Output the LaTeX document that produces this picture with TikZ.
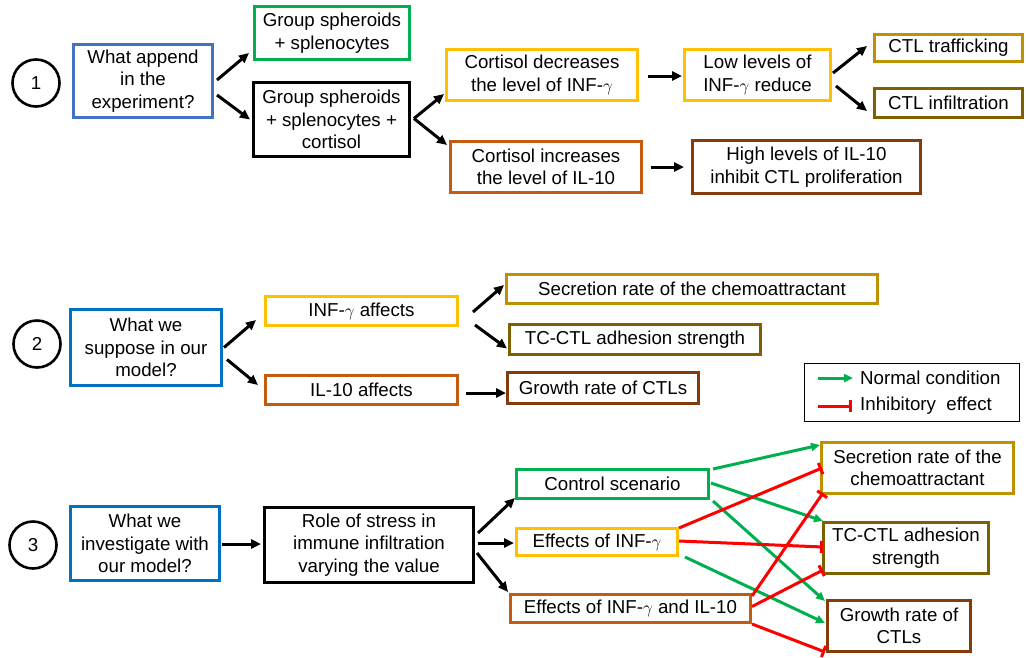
\documentclass[tikz,border=0pt]{standalone}
\usepackage{fontspec}
\setmainfont{Liberation Sans}
\usetikzlibrary{arrows.meta,calc}
\definecolor{cblueA}{HTML}{4472C4}
\definecolor{cblueB}{HTML}{0070C0}
\definecolor{cgreen}{HTML}{00B050}
\definecolor{cyellow}{HTML}{FFC000}
\definecolor{corange}{HTML}{C55A11}
\definecolor{cgold}{HTML}{BF9000}
\definecolor{cdgold}{HTML}{7F6000}
\definecolor{cbrown}{HTML}{843C0C}
\definecolor{cred}{HTML}{FF0000}
\tikzset{
  txt/.style={font=\fontsize{18.7}{22.5}\selectfont},
  bx/.style={txt, draw, line width=3.2pt, inner sep=0pt, align=center, fill=white},
  numc/.style={txt, draw, circle, line width=2.6pt, minimum size=47pt, inner sep=0pt},
  ar/.style={-{Triangle[length=10pt,width=9pt]}, line width=3pt, black},
  gar/.style={-{Triangle[length=9pt,width=8pt]}, line width=3pt, cgreen},
  rbar/.style={-{Bar[width=12pt]}, line width=3pt, cred},
}
\newcommand{\Bx}[7]{\node[bx, draw=#6, minimum width={(#4-#2-3.2)*1pt}, minimum height={(#5-#3-3.2)*1pt}] (#1) at ({(#2+#4)/2},{(#3+#5)/2}) {#7};}
\begin{document}
\begin{tikzpicture}[x=1pt,y=-1pt]
\useasboundingbox (0,0) rectangle (1026,657);

% ---------- Section 1 ----------
\node[numc] (c1) at (36,83) {1};
\Bx{q1}{72}{43}{214}{119}{cblueA}{What append\\in the\\experiment?}
\Bx{g1}{253}{5}{411}{61}{cgreen}{Group spheroids\\+ splenocytes}
\Bx{k1}{252}{81}{411}{158}{black}{Group spheroids\\+ splenocytes +\\cortisol}
\Bx{y1}{445}{48}{639}{102}{cyellow}{Cortisol decreases\\the level of INF-$\gamma$}
\Bx{o1}{449}{140}{643}{194}{corange}{Cortisol increases\\the level of IL-10}
\Bx{l1}{683}{48}{832}{102}{cyellow}{Low levels of\\INF-$\gamma$ reduce}
\Bx{h1}{691}{139}{922}{195}{cbrown}{High levels of IL-10\\inhibit CTL proliferation}
\Bx{t1}{873}{33}{1024}{63}{cgold}{CTL trafficking}
\Bx{i1}{873}{87}{1024}{119}{cdgold}{CTL infiltration}

\draw[ar] ($(q1.east)+(3,-1)$) -- ($(g1.south west)+(-4,-8)$);
\draw[ar] ($(q1.east)+(3,14)$) -- ($(k1.west)+(-2,0)$);
\draw[ar] ($(k1.east)+(3,-1)$) -- ($(y1.south west)+(-1,-8)$);
\draw[ar] ($(k1.east)+(3,-1)$) -- ($(o1.north west)+(-2,5)$);
\draw[ar] ($(y1.east)+(9,1)$) -- ($(l1.west)+(-1,1)$);
\draw[ar] ($(l1.east)+(1,-2)$) -- ($(t1.west)+(-6,-2)$);
\draw[ar] ($(l1.east)+(4,11)$) -- ($(i1.west)+(-6,8)$);
\draw[ar] ($(o1.east)+(8,0)$) -- ($(h1.west)+(-7,0)$);

% ---------- Section 2 ----------
\node[numc] (c2) at (37,344) {2};
\Bx{q2}{69}{308}{223}{387}{cblueB}{What we\\suppose in our\\model?}
\Bx{y2}{264}{295}{459}{327}{cyellow}{INF-$\gamma$ affects}
\Bx{o2}{264}{374}{459}{406}{corange}{IL-10 affects}
\Bx{s2}{505}{273}{879}{305}{cgold}{Secretion rate of the chemoattractant}
\Bx{a2}{508}{323}{762}{356}{cdgold}{TC-CTL adhesion strength}
\Bx{gr2}{506}{371}{700}{405}{cbrown}{Growth rate of CTLs}

\draw[ar] ($(q2.east)+(1,0)$) -- ($(y2.south west)+(-8,-7)$);
\draw[ar] ($(q2.east)+(4,12)$) -- ($(o2.west)+(-6,-5)$);
\draw[ar] ($(y2.east)+(14,1)$) -- ($(s2.west)+(-1,-4)$);
\draw[ar] ($(y2.east)+(16,14)$) -- ($(a2.west)+(-1,9)$);
\draw[ar] ($(o2.east)+(7,3)$) -- ($(gr2.west)+(0,5)$);

% legend
\node[draw, line width=1.3pt, minimum width=215pt, minimum height=58pt, inner sep=0pt] (lg) at (912,392.5) {};
\node[txt, anchor=west, inner sep=0pt] (ln1) at (860,378) {Normal condition};
\node[txt, anchor=west, inner sep=0pt] (ln2) at (860,406) {Inhibitory\ \ effect};
\coordinate (lga) at (818,378);
\coordinate (lgb) at (818,406);
\draw[gar] (lga) -- ($(ln1.west)+(-7,0)$);
\draw[rbar] (lgb) -- ($(ln2.west)+(-8,0)$);

% ---------- Section 3 ----------
\node[numc] (c3) at (33,545) {3};
\Bx{q3}{69}{505}{221}{582}{cblueB}{What we\\investigate with\\our model?}
\Bx{r3}{263}{506}{475}{584}{black}{Role of stress in\\immune infiltration\\varying the value}
\Bx{cs3}{515}{468}{710}{500}{cgreen}{Control scenario}
\Bx{ei3}{515}{527}{679}{557}{cyellow}{Effects of INF-$\gamma$}
\Bx{eb3}{509}{593}{752}{624}{corange}{Effects of INF-$\gamma$ and IL-10}
\Bx{sc3}{820}{441}{1015}{495}{cgold}{Secretion rate of the\\chemoattractant}
\Bx{ad3}{822}{521}{990}{575}{cdgold}{TC-CTL adhesion\\strength}
\Bx{gw3}{826}{599}{972}{653}{cbrown}{Growth rate of\\CTLs}

\draw[ar] ($(q3.east)+(1,0.5)$) -- ($(r3.west)+(-2,-1)$);
\draw[ar] ($(r3.east)+(3,-12)$) -- ($(cs3.south west)+(0,-2)$);
\draw[ar] ($(r3.east)+(3,-2)$) -- ($(ei3.west)+(-1,1)$);
\draw[ar] ($(r3.east)+(2,8)$) -- ($(eb3.north west)+(-1,-1)$);

% green (normal condition)
\draw[gar] ($(cs3.north east)+(3,1)$) -- ($(sc3.north west)+(0,4)$);
\draw[gar] ($(cs3.east)+(1,-1)$) -- ($(ad3.north west)+(1,0)$);
\draw[gar] ($(cs3.south east)+(3,1)$) -- ($(gw3.north west)+(-1,2)$);
\draw[gar] ($(ei3.south east)+(6,0)$) -- ($(gw3.west)+(-1,-3)$);

% red (inhibitory effect)
\draw[rbar] ($(ei3.north east)+(0,1)$) -- ($(sc3.west)+(2,0)$);
\draw[rbar] ($(ei3.east)+(0,-1)$) -- ($(ad3.west)+(1,-1)$);
\draw[rbar] ($(eb3.north east)+(0,3)$) -- ($(sc3.south west)+(3,-2)$);
\draw[rbar] ($(eb3.east)+(0,-2)$) -- ($(ad3.south west)+(1,-5)$);
\draw[rbar] ($(eb3.south east)+(0,0)$) -- ($(gw3.south west)+(-1,-1)$);
\end{tikzpicture}
\end{document}
